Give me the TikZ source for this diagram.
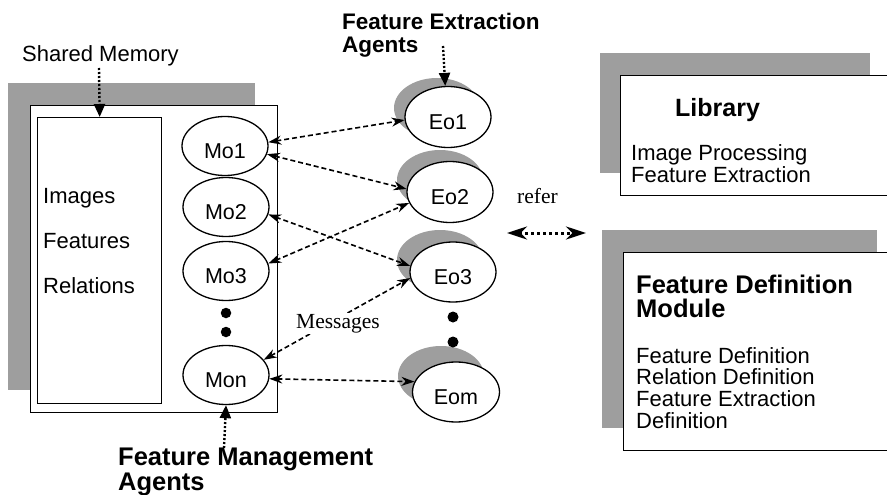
\documentclass[tikz,border=0pt]{standalone}
\usepackage{fontspec}
\setmainfont{Liberation Sans}
\newfontfamily\serifface{Liberation Serif}
\usetikzlibrary{shapes.geometric,arrows.meta}

\newcommand{\fsz}[2]{\fontsize{#1}{#2}\selectfont}

\tikzset{
  shadowfill/.style={fill=black!38, draw=none},
  panel/.style={draw, line width=1.4pt, fill=white},
  agent/.style={ellipse, draw, line width=1.3pt, fill=white, inner sep=0pt,
    minimum width=86pt, minimum height=59pt, text height=24pt, text depth=0pt,
    font=\fsz{21.5}{24}},
  plain/.style={anchor=base west, inner sep=0pt, font=\fsz{22}{24}},
  heading/.style={anchor=base west, inner sep=0pt, font=\bfseries\fsz{25}{24}},
  msg/.style={line width=1.6pt, dash pattern=on 5pt off 3pt,
    {Stealth[length=13pt,width=9pt]}-{Stealth[length=13pt,width=9pt]}},
  pointer/.style={line width=2.4pt, dash pattern=on 2pt off 2pt,
    -{Triangle[length=13pt,width=11pt]}},
  refarrow/.style={line width=3pt, dash pattern=on 3pt off 3pt,
    {Stealth[length=20pt,width=13pt]}-{Stealth[length=20pt,width=13pt]}},
  bigdot/.style={circle, fill=black, inner sep=0pt, minimum size=10.5pt},
}

\begin{document}
\begin{tikzpicture}[x=1pt, y=-1pt]
  \clip (0,0) rectangle (887,495);
  \fill[white] (0,0) rectangle (887,495);

  % ---- shared memory block ----
  \fill[shadowfill] (8,83) rectangle (255,390);
  \node[panel, anchor=north west, minimum width=247pt, minimum height=307pt,
        inner sep=0pt] (shm) at (30,105) {};
  \node[draw, line width=1.4pt, anchor=north west, minimum width=124pt,
        minimum height=286pt, inner sep=0pt] (store) at (37,117) {};
  \node[plain] (images) at (43,203) {Images};
  \node[plain] (features) at (43,248) {Features};
  \node[plain] (relations) at (43,293) {Relations};
  \node[plain] (smlabel) at (22,62) {Shared Memory};

  % management agents
  \node[agent] (mo1) at (225,146) {Mo1\hspace{18pt}};
  \node[agent] (mo2) at (226,207) {Mo2\hspace{18pt}};
  \node[agent] (mo3) at (226,271) {Mo3\hspace{18pt}};
  \node[bigdot] (md1) at (226,313) {};
  \node[bigdot] (md2) at (226,332) {};
  \node[agent] (mon) at (226,375) {Mon\hspace{18pt}};

  % ---- extraction agents (with shadows) ----
  \fill[shadowfill] (437,108) ellipse [x radius=43pt, y radius=30pt];
  \fill[shadowfill] (440,180) ellipse [x radius=43pt, y radius=30pt];
  \fill[shadowfill] (440,260) ellipse [x radius=43pt, y radius=30pt];
  \fill[shadowfill] (441,376) ellipse [x radius=43pt, y radius=30pt];
  \node[agent, minimum height=61pt] (eo1) at (448,117) {Eo1\hspace{12pt}};
  \node[agent, minimum height=61pt] (eo2) at (450,192) {Eo2\hspace{12pt}};
  \node[agent, minimum height=60pt] (eo3) at (453,272) {Eo3\hspace{12pt}};
  \node[bigdot, minimum size=11pt] (ed1) at (453,317) {};
  \node[bigdot, minimum size=11pt] (ed2) at (453,342) {};
  \node[agent, minimum width=87pt, minimum height=60pt] (eom) at (456,392) {Eom\hspace{12pt}};

  % ---- message connectors ----
  \draw[msg] (mo1.5) -- (eo1.184);
  \draw[msg] (mo1.-11) -- (eo2.176);
  \draw[msg] (mo2.-10) -- (eo3.172);
  \draw[msg] (mo3.10) -- (eo2.195);
  \draw[msg] (mon.22) -- (eo3.188);
  \draw[msg] (mon.-5) -- (eom.166);
  \node[anchor=base west, inner sep=1pt, fill=white, font=\serifface\fsz{21.5}{24}]
    (messages) at (295,328) {Messages};

  % ---- labels with pointers ----
  \node[heading, font=\bfseries\fsz{22.5}{23}] (fea1) at (342,30) {Feature Extraction};
  \node[heading, font=\bfseries\fsz{22.5}{23}] (fea2) at (342,53) {Agents};
  \node[heading, font=\bfseries\fsz{25.5}{25}] (fma1) at (118,465) {Feature Management};
  \node[heading, font=\bfseries\fsz{25.5}{25}] (fma2) at (118,490) {Agents};
  \coordinate (smtop) at (99,68);
  \coordinate (featop) at (443,46);
  \coordinate (fmabot) at (224,448);
  \draw[pointer] (smtop) -- (store.north);
  \draw[pointer] (featop) -- (eo1.95);
  \draw[pointer] (fmabot) -- (mon.south);

  % ---- library ----
  \fill[shadowfill] (600,53) rectangle (870,173);
  \node[panel, anchor=north west, minimum width=300pt, minimum height=120pt,
        inner sep=0pt] (lib) at (620,75) {};
  \node[heading, font=\bfseries\fsz{25}{24}] (libtitle) at (675,117) {Library};
  \node[plain] (lib1) at (631,160) {Image Processing};
  \node[plain] (lib2) at (631,182) {Feature Extraction};

  % ---- feature definition module ----
  \fill[shadowfill] (602,230) rectangle (877,428);
  \node[panel, anchor=north west, minimum width=300pt, minimum height=198pt,
        inner sep=0pt] (fdm) at (623,252) {};
  \node[heading, font=\bfseries\fsz{25.5}{24}] (fdmt1) at (636,293) {Feature Definition};
  \node[heading, font=\bfseries\fsz{25.5}{24}] (fdmt2) at (636,317) {Module};
  \node[plain] (fdm1) at (636,363) {Feature Definition};
  \node[plain] (fdm2) at (636,384) {Relation Definition};
  \node[plain] (fdm3) at (636,406) {Feature Extraction};
  \node[plain] (fdm4) at (636,428) {Definition};

  % ---- refer ----
  \node[anchor=base west, inner sep=0pt, font=\serifface\fsz{21.5}{24}]
    (refer) at (517,203) {refer};
  \coordinate (refl) at (507,233);
  \coordinate (refr) at (586,233);
  \draw[refarrow] (refl) -- (refr);
\end{tikzpicture}
\end{document}
